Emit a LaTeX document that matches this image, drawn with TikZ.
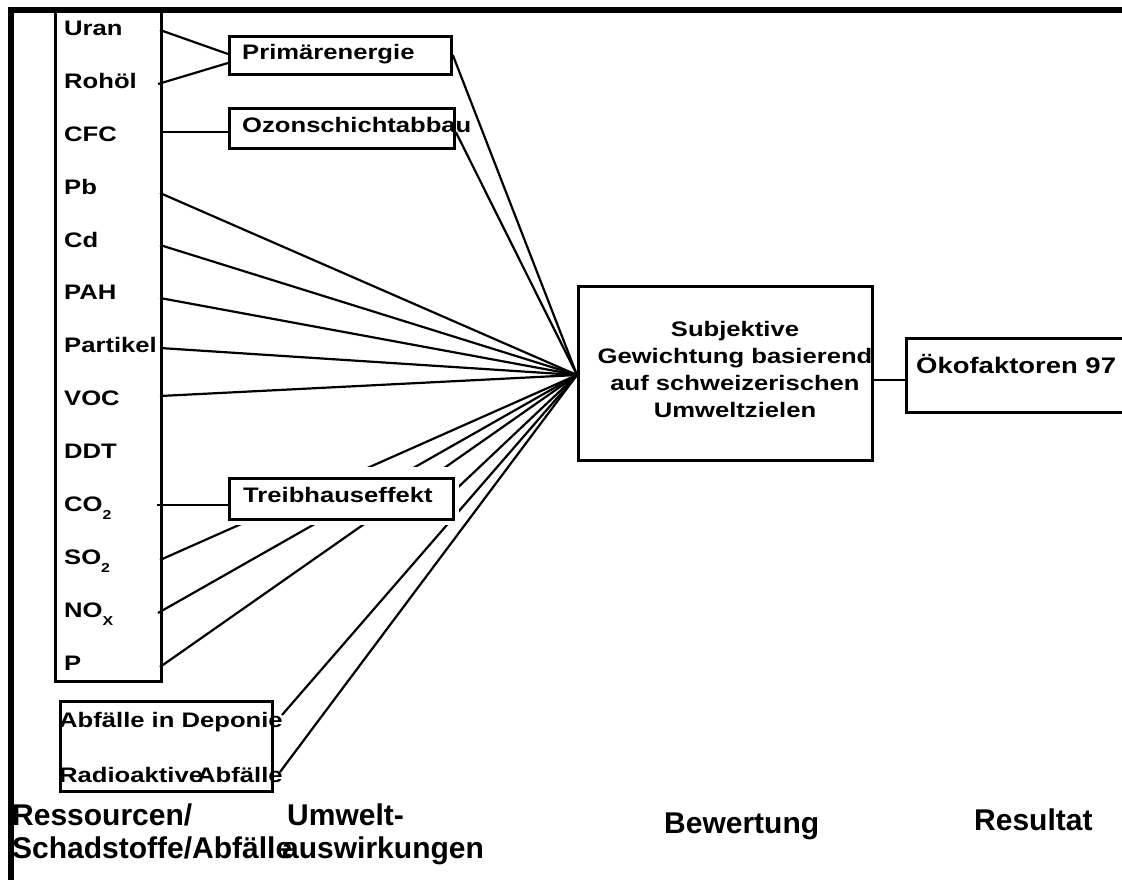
\documentclass[tikz,border=0pt]{standalone}
\usepackage{fontspec}
\setmainfont{Liberation Sans}
\newfontfamily\lbl{Liberation Sans}[FakeStretch=1.22]
\begin{document}
\begin{tikzpicture}[x=1pt,y=-1pt,
  ln/.style={line width=2.2pt},
  bx/.style={draw, line width=2.8pt, inner sep=0pt, anchor=north west},
  lab/.style={anchor=base west, inner sep=0pt, font=\lbl\bfseries\fontsize{21}{25}\selectfont},
  labc/.style={anchor=base, inner sep=0pt, font=\lbl\bfseries\fontsize{21}{25}\selectfont},
  big/.style={anchor=base west, inner sep=0pt, font=\bfseries\fontsize{30}{33}\selectfont}]
\clip (0,0) rectangle (1122,879);
\useasboundingbox (0,0) rectangle (1122,879);
% frame
\draw[line width=6pt] (11,885) -- (11,10) -- (1130,10);
% list box
\node[bx, minimum width=106pt, minimum height=670pt] (list) at (54,10) {};
% anchor coordinates
\coordinate (hub) at (577,375);
\coordinate (uranR) at (160,30);
\coordinate (rohR) at (158,84);
\coordinate (cfcR) at (160,132);
\coordinate (pbR) at (160,193);
\coordinate (cdR) at (160,245);
\coordinate (pahR) at (160,298);
\coordinate (partR) at (160,348);
\coordinate (vocR) at (160,396);
\coordinate (co2R) at (157,505);
\coordinate (so2R) at (160,560);
\coordinate (noxR) at (158,613);
\coordinate (pR) at (160,667);
\coordinate (depR) at (282,715);
\coordinate (radR) at (280,772);
% boxes
\node[bx, minimum width=222pt, minimum height=38pt] (prim) at (228,35) {};
\node[bx, minimum width=225pt, minimum height=40pt] (ozon) at (228,107) {};
\node[bx, minimum width=294pt, minimum height=174pt] (bew) at (577,285) {};
\node[bx, minimum width=240pt, minimum height=74pt] (oko) at (905,337) {};
\node[bx, minimum width=212pt, minimum height=90pt] (abf) at (59,700) {};
% connectors
\draw[ln] (uranR) -- (prim.west |- 0,54);
\draw[ln] (rohR) -- (prim.west |- 0,63);
\draw[ln] (cfcR) -- (ozon.west |- 0,132);
\draw[ln] (co2R) -- (233,505);
\draw[ln] (prim.east |- 0,55) -- (hub);
\draw[ln] (ozon.east |- 0,132) -- (hub);
\foreach \p in {pbR,cdR,pahR,partR,vocR,so2R,noxR,pR,depR,radR}
  \draw[ln] (\p) -- (hub);
\draw[ln] (452,493) -- (hub);
\draw[ln] (bew.east |- 0,380) -- (oko.west |- 0,380);
% white cover behind Treibhauseffekt
\fill[white] (236,467) rectangle (459,525);
\node[bx, fill=white, minimum width=224pt, minimum height=41pt] (treib) at (228,477) {};
% list labels
\node[lab] (uran) at (64,35) {Uran};
\node[lab] (roh) at (64,88) {Rohöl};
\node[lab] (cfc) at (64,141) {CFC};
\node[lab] (pb) at (64,194) {Pb};
\node[lab] (cd) at (64,247) {Cd};
\node[lab] (pah) at (64,299) {PAH};
\node[lab] (part) at (64,352) {Partikel};
\node[lab] (voc) at (64,405) {VOC};
\node[lab] (ddt) at (64,458) {DDT};
\node[lab] (co2) at (64,511) {CO\raisebox{-8pt}{\fontsize{13}{13}\selectfont 2}};
\node[lab] (so2) at (64,564) {SO\raisebox{-8pt}{\fontsize{13}{13}\selectfont 2}};
\node[lab] (nox) at (64,617) {NO\raisebox{-8pt}{\fontsize{13}{13}\selectfont X}};
\node[lab] (p) at (64,670) {P};
% box labels
\node[lab] (primt) at (242,59) {Primärenergie};
\node[lab] (ozont) at (242,132) {Ozonschichtabbau};
\node[lab] (treibt) at (243,502) {Treibhauseffekt};
\node[lab] (dept) at (59,727) {Abfälle in Deponie};
\node[lab] (radt) at (59,782) {Radioaktive};
\node[lab] (radt2) at (197,782) {Abfälle};
\node[labc] (bew1) at (735,336) {Subjektive};
\node[labc] (bew2) at (735,363) {Gewichtung basierend};
\node[labc] (bew3) at (735,390) {auf schweizerischen};
\node[labc] (bew4) at (735,417) {Umweltzielen};
\node[lab, font=\lbl\bfseries\fontsize{22.5}{26}\selectfont] (okot) at (916,373) {Ökofaktoren 97};
% column headings
\node[big] (h1a) at (12,825) {Ressourcen/};
\node[big] (h1b) at (12,858) {Schadstoffe/Abfälle};
\node[big] (h2a) at (287,825) {Umwelt-};
\node[big] (h2b) at (282,858) {auswirkungen};
\node[big] (h3) at (664,833) {Bewertung};
\node[big] (h4) at (974,830) {Resultat};
\end{tikzpicture}
\end{document}
